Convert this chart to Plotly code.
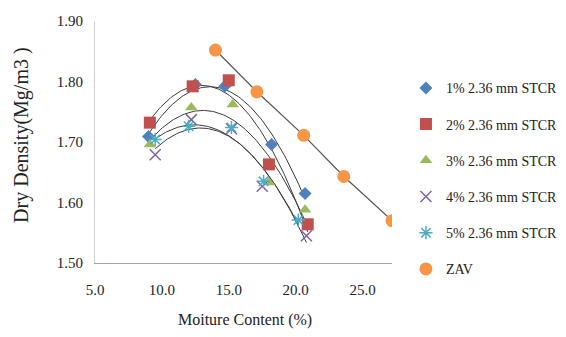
import numpy as np
import plotly.graph_objects as go

# Data
series_names = ["1% 2.36 mm STCR", "2% 2.36 mm STCR", "3% 2.36 mm STCR",
                "4% 2.36 mm STCR", "5% 2.36 mm STCR"]
x_s1 = [9.0, 12.5, 14.7, 18.2, 20.7]
y_s1 = [1.709, 1.795, 1.792, 1.696, 1.615]
x_s2 = [9.1, 12.3, 15.0, 18.0, 20.9]
y_s2 = [1.732, 1.792, 1.802, 1.663, 1.564]
x_s3 = [9.1, 12.2, 15.3, 18.0, 20.7]
y_s3 = [1.696, 1.757, 1.762, 1.633, 1.588]
x_s4 = [9.5, 12.2, 15.2, 17.5, 20.8]
y_s4 = [1.679, 1.737, 1.722, 1.627, 1.545]
x_s5 = [9.5, 12.0, 15.2, 17.6, 20.2]
y_s5 = [1.704, 1.726, 1.724, 1.635, 1.571]
x_zav = [14.0, 17.1, 20.6, 23.6, 27.2]
y_zav = [1.852, 1.783, 1.711, 1.643, 1.570]

x_ticks = [5, 10, 15, 20, 25]
y_ticks = [1.5, 1.6, 1.7, 1.8, 1.9]

xs = [x_s1, x_s2, x_s3, x_s4, x_s5]
ys = [y_s1, y_s2, y_s3, y_s4, y_s5]
colors = ["#4F81BD", "#C0504D", "#9BBB59", "#8064A2", "#4BACC6"]
symbols = ["diamond", "square", "triangle-up", "x-thin-open", "asterisk-open"]
sizes = [10, 12, 11, 11, 11]

FONT = "Times New Roman, Liberation Serif, DejaVu Serif, serif"
fig = go.Figure()

# Polynomial (order 2) trendlines
for x, y in zip(xs, ys):
    c = np.polyfit(x, y, 2)
    xx = np.linspace(min(x), max(x), 100)
    fig.add_trace(go.Scatter(x=xx, y=np.polyval(c, xx), mode="lines",
                             line=dict(color="#3a3a3a", width=1),
                             showlegend=False, hoverinfo="skip"))

fig.add_trace(go.Scatter(x=x_zav, y=y_zav, mode="lines",
                         line=dict(color="#555555", width=1.2),
                         showlegend=False, hoverinfo="skip"))

for i, (name, x, y) in enumerate(zip(series_names, xs, ys)):
    mk = dict(color=colors[i], symbol=symbols[i], size=sizes[i])
    if "open" in symbols[i]:
        mk["line"] = dict(color=colors[i], width=1.5)
    fig.add_trace(go.Scatter(x=x, y=y, mode="markers", name=name, marker=mk,
                             legendgroup=name))

fig.add_trace(go.Scatter(x=x_zav, y=y_zav, mode="markers", name="ZAV",
                         marker=dict(color="#F79646", symbol="circle", size=13),
                         legendgroup="ZAV"))

fig.update_layout(
    width=566, height=337,
    margin=dict(l=87, r=182, t=13, b=82, autoexpand=False),
    plot_bgcolor="white", paper_bgcolor="white",
    font=dict(family=FONT, size=15, color="#222222"),
    showlegend=True,
    legend=dict(x=1.047, y=0.788, xanchor="left", yanchor="top",
                font=dict(family=FONT, size=14, color="#222222"),
                tracegroupgap=15, traceorder="grouped",
                bgcolor="rgba(0,0,0,0)", itemwidth=30),
    xaxis=dict(range=[5, 27.2], tickvals=x_ticks,
               ticktext=[f"{v:.1f}" for v in x_ticks],
               showgrid=False, zeroline=False, showline=True,
               linecolor="#a6a6a6", linewidth=1, ticks="",
               ticklabelstandoff=13, automargin=False,
               tickfont=dict(family=FONT, size=15)),
    yaxis=dict(range=[1.5, 1.9], tickvals=y_ticks,
               ticktext=[f"{v:.2f}" for v in y_ticks],
               showgrid=False, zeroline=False, showline=True,
               linecolor="#d0d0d0", linewidth=1, ticks="",
               ticklabelstandoff=8, automargin=False,
               tickfont=dict(family=FONT, size=15)),
    annotations=[
        dict(text="Dry Density(Mg/m3 )", xref="paper", yref="paper",
             x=-0.246, y=0.529, xanchor="center", yanchor="middle",
             textangle=-90, showarrow=False,
             font=dict(family=FONT, size=20, color="#222222")),
        dict(text="Moiture Content (%)", xref="paper", yref="paper",
             x=0.505, y=-0.235, xanchor="center", yanchor="middle",
             showarrow=False,
             font=dict(family=FONT, size=16, color="#222222")),
    ],
)

fig.write_html("out.html")
